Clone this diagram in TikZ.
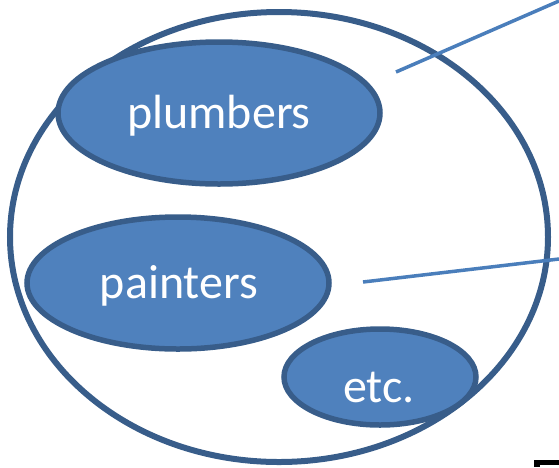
\documentclass[tikz,border=0pt]{standalone}
\usepackage{fontspec}
\setmainfont{Carlito}
\usetikzlibrary{shapes.geometric}
\definecolor{boxfill}{HTML}{4F81BD}
\definecolor{boxedge}{HTML}{385D8A}
\definecolor{leader}{HTML}{4A7EBB}
\tikzset{
  group/.style={ellipse, fill=boxfill, draw=boxedge, line width=5.5pt, inner sep=0pt},
  grouptext/.style={anchor=base, inner sep=0pt, text=white, font=\fontsize{48}{48}\selectfont},
  outer/.style={draw=boxedge, line width=6pt},
  leaderline/.style={draw=leader, line width=3.5pt}
}
\begin{document}
\begin{tikzpicture}[x=1pt,y=-1pt]
\useasboundingbox (0,0) rectangle (559,467);
% the surrounding set
\draw[outer] (279,237) ellipse [x radius=269, y radius=225];
% member groups
\node[group, minimum width=322pt, minimum height=142pt] (plumbers) at (219,113) {};
\node[group, minimum width=302pt, minimum height=132pt] (painters) at (178,283) {};
\node[group, minimum width=192pt, minimum height=96pt] (etc) at (380,377) {};
\node[grouptext] (plumbersText) at (219,128) {plumbers};
\node[grouptext] (paintersText) at (179,298) {painters};
\node[grouptext] (etcText) at (379,402) {etc.};
% leader lines to the labels off to the right
\coordinate (inA) at (396,72);
\coordinate (outA) at (559,1);
\coordinate (inB) at (363,282);
\coordinate (outB) at (559,259);
\draw[leaderline] (inA) -- (outA);
\draw[leaderline] (inB) -- (outB);
% edge of a caption letter at the bottom corner
\fill[black] (534,460) rectangle (559,467);
\fill[white] (540,465) rectangle (559,467);
\end{tikzpicture}
\end{document}
